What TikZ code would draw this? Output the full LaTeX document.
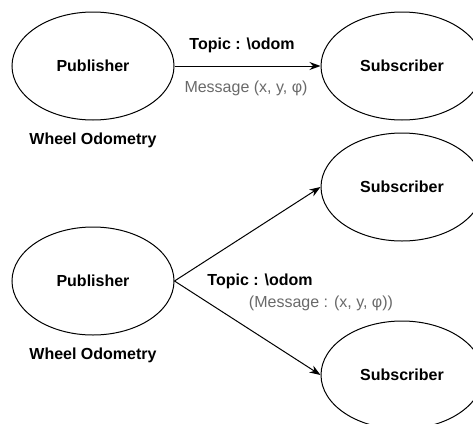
\documentclass[tikz,border=0pt]{standalone}
\usepackage{fontspec}
\setmainfont{Liberation Sans}
\usetikzlibrary{shapes.geometric,arrows.meta}
\definecolor{msggray}{RGB}{105,105,105}
\tikzset{
  ell/.style={draw=black, line width=1pt, ellipse, minimum width=162pt, minimum height=108pt, inner sep=0pt, font=\fontsize{16}{19}\selectfont\bfseries},
  lbl/.style={inner sep=0pt, font=\fontsize{16}{19}\selectfont\bfseries},
  msg/.style={inner sep=0pt, text=msggray, font=\fontsize{16}{19}\selectfont},
  conn/.style={line width=1pt, -{Stealth[length=11pt,width=8pt]}}
}
\begin{document}
\begin{tikzpicture}[x=1pt,y=-1pt]
\useasboundingbox (0,0) rectangle (473,423);
\clip (0,0) rectangle (473,423);
\node[ell] (pub1) at (93,66) {Publisher};
\node[ell] (sub1) at (402,66) {Subscriber};
\node[lbl] (wo1) at (93,140) {Wheel Odometry};
\node[lbl] (t1) at (242,45) {Topic : \textbackslash odom};
\node[msg] (m1) at (246,88) {Message (x, y, φ)};
\draw[conn] (pub1) -- (sub1);

\node[ell] (sub2) at (402,187) {Subscriber};
\node[ell] (pub2) at (93,281) {Publisher};
\node[lbl] (wo2) at (93,355) {Wheel Odometry};
\node[ell] (sub3) at (402,375) {Subscriber};
\node[lbl] (t2) at (260,281) {Topic : \textbackslash odom};
\node[msg] (m2) at (321,303) {(Message : (x, y, φ))};
\draw[conn] (pub2.east) -- (sub2.west);
\draw[conn] (pub2.east) -- (sub3.west);
\end{tikzpicture}
\end{document}
